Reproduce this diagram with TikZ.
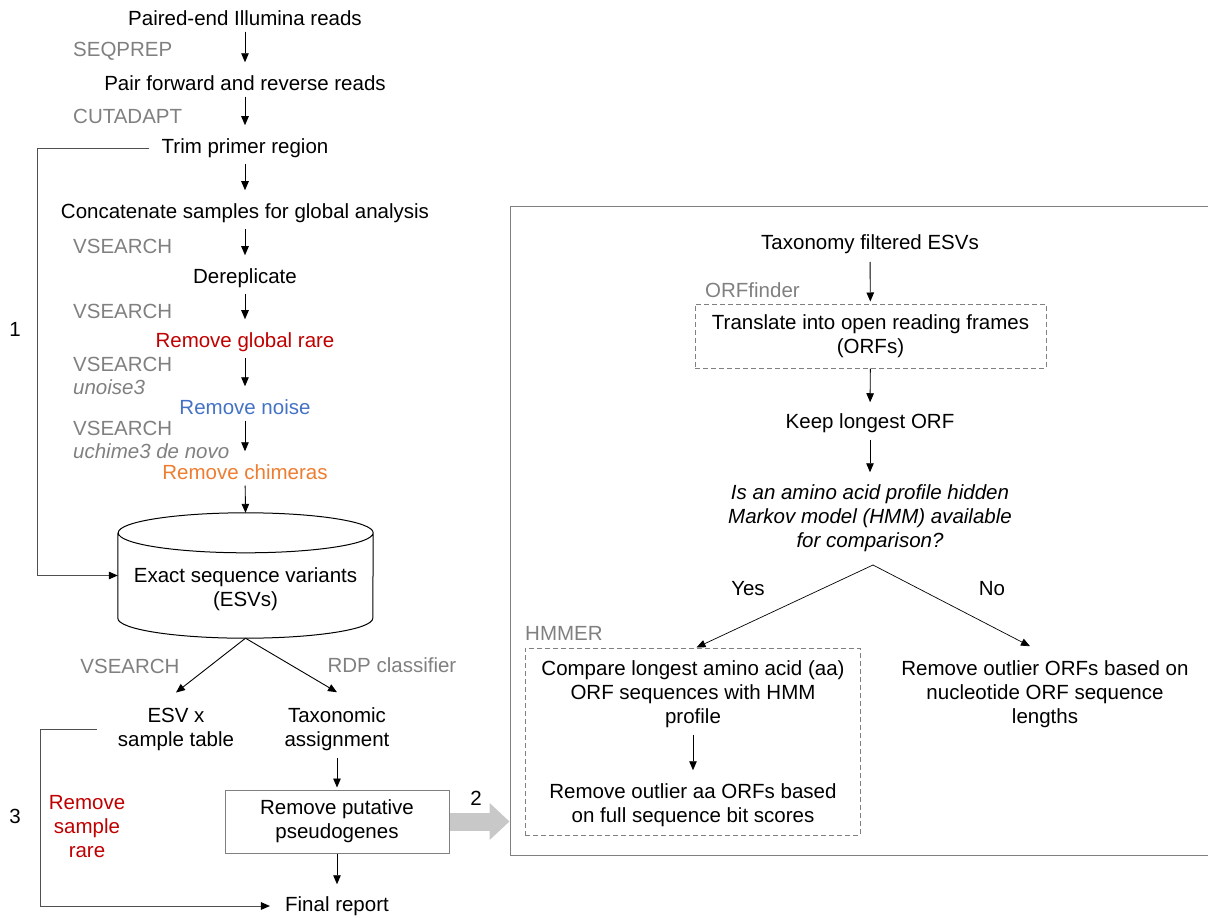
\documentclass[tikz,border=0pt]{standalone}
\usepackage{fontspec}
\setmainfont{Liberation Sans}
\usetikzlibrary{arrows.meta}
\definecolor{toolgray}{HTML}{808080}
\definecolor{rarered}{HTML}{C00000}
\definecolor{noiseblue}{HTML}{4472C4}
\definecolor{chimorange}{HTML}{ED7D31}
\definecolor{linegray}{HTML}{505050}
\definecolor{boxgray}{HTML}{808080}
\definecolor{biggray}{HTML}{C8C8C8}
\begin{document}
\begin{tikzpicture}[x=1pt,y=-1pt,
  every node/.style={font=\fontsize{20.5}{24}\selectfont, inner sep=0pt, align=center},
  tool/.style={text=toolgray},
  toolit/.style={text=toolgray, font=\fontsize{20.5}{24}\selectfont\itshape},
  arr/.style={draw=black, line width=0.9pt, -{Triangle[length=9pt,width=7.5pt]}},
  flow/.style={arr, shorten <=6pt, shorten >=13pt},
  loopline/.style={draw=linegray, line width=1pt, -{Triangle[length=9pt,width=7.5pt,black]}},
  dbox/.style={draw=boxgray, line width=1pt, dash pattern=on 5pt off 3pt},
  sbox/.style={draw=boxgray, line width=1pt},
  bigarr/.style={draw=biggray, line width=18pt, -{Triangle[length=20pt,width=36pt]}}
]
\useasboundingbox (0,0) rectangle (1208,918);

% ---- left pipeline
\node (reads) at (245,18) {Paired-end Illumina reads};
\node[tool, anchor=west] (seqprep) at (73,51) {SEQPREP};
\node (pair) at (245,83) {Pair forward and reverse reads};
\node[tool, anchor=west] (cutadapt) at (73,116) {CUTADAPT};
\node (trim) at (245,148) {Trim primer region};
\node (concat) at (245,213) {Concatenate samples for global analysis};
\node[tool, anchor=west] (vs1) at (73,246) {VSEARCH};
\node (derep) at (245,278) {Dereplicate};
\node[tool, anchor=west] (vs2) at (73,311) {VSEARCH};
\node[text=rarered] (grare) at (245,342) {Remove global rare};
\node[tool, anchor=west] (vs3) at (73,364) {VSEARCH};
\node[toolit, anchor=west] (unoise) at (73,387) {unoise3};
\node[text=noiseblue] (noise) at (245,407) {Remove noise};
\node[tool, anchor=west] (vs4) at (73,428) {VSEARCH};
\node[toolit, anchor=west] (uchime) at (73,451) {uchime3 de novo};
\node[text=chimorange] (chim) at (245,472) {Remove chimeras};

\draw[flow] (reads) -- (pair);
\draw[flow] (pair) -- (trim);
\draw[flow] (trim) -- (concat);
\draw[flow] (concat) -- (derep);
\draw[flow] (derep) -- (grare);
\draw[flow] (grare) -- (noise);
\draw[flow] (noise) -- (chim);

% ---- cylinder
\node[minimum width=255pt, minimum height=125pt] (esv) at (245.5,575.5) {};
\draw[line width=1pt] ([yshift=-20pt]esv.north west) -- ([yshift=20pt]esv.south west)
  arc[start angle=180, end angle=360, x radius=127.5pt, y radius=20pt]
  -- ([yshift=-20pt]esv.north east)
  arc[start angle=0, end angle=180, x radius=127.5pt, y radius=20pt]
  arc[start angle=180, end angle=360, x radius=127.5pt, y radius=20pt];
\node (esvtxt) at (245.5,589) {Exact sequence variants\\(ESVs)};
\draw[arr, shorten <=6pt] (chim) -- (esv.north);

% loop 1
\coordinate (l1) at (37,0);
\draw[loopline, shorten <=12pt] (trim.west) -- (trim.west -| l1) |- (esv.west);
\node (n1) at (15,329) {1};

% ---- lower part
\node[tool] (vs5) at (130,666) {VSEARCH};
\node[tool] (rdp) at (392,665) {RDP classifier};
\node (esvx) at (176,729) {ESV x\\sample table};
\node (taxa) at (337,729) {Taxonomic\\assignment};
\draw[arr] (esv.south) -- ([yshift=15pt]esvx.north);
\draw[arr] (esv.south) -- ([yshift=15pt]taxa.north);

\node[sbox, minimum width=224pt, minimum height=63pt] (pseudo) at (337,821.5) {Remove putative\\pseudogenes};
\draw[arr, shorten <=7pt, shorten >=2pt] (taxa) -- (pseudo);
\node (final) at (337,906) {Final report};
\draw[arr, shorten >=12pt] (pseudo) -- (final);

% loop 3
\coordinate (l3) at (40,0);
\draw[loopline, shorten <=21pt, shorten >=15pt] (esvx.west) -- (esvx.west -| l3) |- (final.west);
\node (n3) at (15,816) {3};
\node[text=rarered] (ssr) at (87,827) {Remove\\sample\\rare};

% ---- right panel
\node[sbox, minimum width=702pt, minimum height=649pt] (panel) at (861,530.5) {};
\draw[bigarr] (pseudo.east) -- (pseudo.east -| panel.west);
\node (n2) at (476,798) {2};

\node (tax) at (870,244) {Taxonomy filtered ESVs};
\node[tool, anchor=west] (orff) at (705,290) {ORFfinder};
\node[dbox, minimum width=351pt, minimum height=64pt] (orf) at (870.5,336) {Translate into open reading frames\\(ORFs)};
\draw[arr, shorten <=8pt, shorten >=2pt] (tax) -- (orf);
\node (keep) at (870,423) {Keep longest ORF};
\draw[arr, shorten >=11pt] (orf) -- (keep);
\node[font=\fontsize{20.5}{24}\selectfont\itshape] (q) at (870,518) {Is an amino acid profile hidden\\Markov model (HMM) available\\for comparison?};
\draw[arr, shorten <=7pt, shorten >=12pt] (keep) -- (q);
\coordinate (apex) at (873,565);

\node[tool, anchor=west] (hmmer) at (525,633) {HMMER};
\node[dbox, minimum width=335pt, minimum height=187pt] (hmm) at (692.5,741.5) {};
\node (cmp) at (693,694) {Compare longest amino acid (aa)\\ORF sequences with HMM\\profile};
\node (rmv) at (693,805) {Remove outlier aa ORFs based\\on full sequence bit scores};
\draw[arr, shorten <=7pt, shorten >=13pt] (cmp) -- (rmv);
\node (nuc) at (1045,694) {Remove outlier ORFs based on\\nucleotide ORF sequence\\lengths};

\draw[arr, line width=0.7pt] (apex) -- ([xshift=4pt]hmm.north);
\draw[arr, line width=0.7pt] (apex) -- ([yshift=14pt, xshift=-15pt]nuc.north);
\node (yes) at (748,589) {Yes};
\node (no) at (992,589) {No};
\end{tikzpicture}
\end{document}
